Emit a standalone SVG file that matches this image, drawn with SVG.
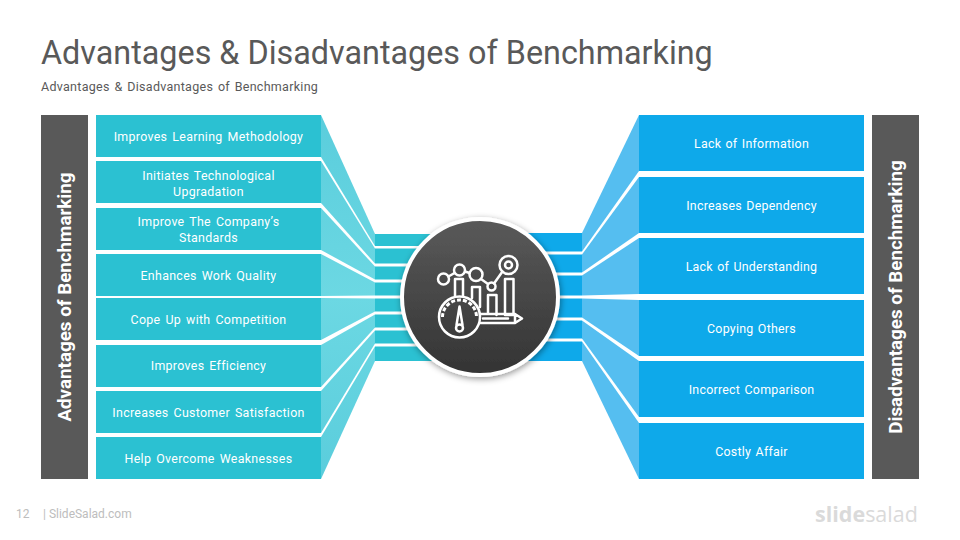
<svg xmlns="http://www.w3.org/2000/svg" width="960" height="540" viewBox="0 0 960 540">
<style>
text{font-family:Roboto,"Liberation Sans",sans-serif}
.t{font-size:12.400px;fill:#fff;text-anchor:middle;letter-spacing:.31px;word-spacing:1.600px}
.r{font-size:12.400px;fill:#fff;text-anchor:middle;letter-spacing:.26px;word-spacing:1px}
.lb{fill:#2BC1D2}.rb{fill:#0EA9EA}
.lf{fill:url(#lfg)}.rf{fill:#55BEF0}
.side{fill:#595959}
.st{font-size:18.800px;font-weight:700;fill:#fff;text-anchor:middle}
.ic{fill:none;stroke:#fff;stroke-width:2.500;stroke-linejoin:round;stroke-linecap:round}
</style>
<defs>
<linearGradient id="cg" x1="0" y1="0" x2="0" y2="1"><stop offset="0" stop-color="#5A5A5A"/><stop offset="1" stop-color="#333"/></linearGradient>
<linearGradient id="lfg" gradientUnits="userSpaceOnUse" x1="0" y1="115" x2="0" y2="479"><stop offset="0" stop-color="#5ACDDC"/><stop offset=".5" stop-color="#6CD8E3"/><stop offset="1" stop-color="#5ACDDC"/></linearGradient>
<filter id="sh" x="-20%" y="-20%" width="140%" height="140%"><feDropShadow dx="1" dy="2" stdDeviation="3" flood-color="#000" flood-opacity=".4"/></filter>
</defs>
<rect width="960" height="540" fill="#fff"/>
<text x="41" y="64" font-size="32.350" fill="#595959">Advantages &amp; Disadvantages of Benchmarking</text>
<text x="41" y="91" font-size="12.500" fill="#595959" letter-spacing=".28" word-spacing="1.400">Advantages &amp; Disadvantages of Benchmarking</text>

<g id="connectors">
<polygon class="lf" points="321,115 375,234 375,246 321,157"/>
<polygon class="lf" points="321,161 375,248.500 375,263.500 321,203"/>
<polygon class="lf" points="321,208 375,266.500 375,279.500 321,250"/>
<polygon class="lf" points="321,254 375,282.500 375,295.500 321,296"/>
<polygon class="lf" points="321,298 375,298.500 375,311.500 321,340"/>
<polygon class="lf" points="321,345 375,314.500 375,327.500 321,387"/>
<polygon class="lf" points="321,391 375,330.500 375,343.500 321,433"/>
<polygon class="lf" points="321,437 375,346.500 375,361 321,479"/>
<rect class="lb" x="375" y="234" width="60" height="12"/>
<rect class="lb" x="375" y="248.500" width="60" height="15"/>
<rect class="lb" x="375" y="266.500" width="60" height="13"/>
<rect class="lb" x="375" y="282.500" width="60" height="13"/>
<rect class="lb" x="375" y="298.500" width="60" height="13"/>
<rect class="lb" x="375" y="314.500" width="60" height="13"/>
<rect class="lb" x="375" y="330.500" width="60" height="13"/>
<rect class="lb" x="375" y="346.500" width="60" height="14.500"/>
<polygon class="rf" points="639,115 582,233 582,251.500 639,171"/>
<polygon class="rf" points="639,177 582,254.500 582,272.500 639,233"/>
<polygon class="rf" points="639,238 582,275.500 582,295.500 639,294"/>
<polygon class="rf" points="639,300 582,298.500 582,317.500 639,356"/>
<polygon class="rf" points="639,361 582,320.500 582,338.500 639,417"/>
<polygon class="rf" points="639,423 582,341.500 582,361 639,479"/>
<rect class="rb" x="525" y="233" width="57" height="18.500"/>
<rect class="rb" x="525" y="254.500" width="57" height="18"/>
<rect class="rb" x="525" y="275.500" width="57" height="20"/>
<rect class="rb" x="525" y="298.500" width="57" height="19"/>
<rect class="rb" x="525" y="320.500" width="57" height="18"/>
<rect class="rb" x="525" y="341.500" width="57" height="19.500"/>
</g>

<g id="adv-panel"><rect class="side" x="41" y="115" width="47" height="364"/><text class="st" transform="translate(71,297) rotate(-90)">Advantages of Benchmarking</text></g>
<g id="adv-1"><rect class="lb" x="96" y="115" width="225" height="42"/><text class="t" x="208.500" y="141">Improves Learning Methodology</text></g>
<g id="adv-2"><rect class="lb" x="96" y="161" width="225" height="42"/><text class="t" x="208.500" y="180">Initiates Technological</text><text class="t" x="208.500" y="196">Upgradation</text></g>
<g id="adv-3"><rect class="lb" x="96" y="208" width="225" height="42"/><text class="t" x="208.500" y="226">Improve The Company’s</text><text class="t" x="208.500" y="242">Standards</text></g>
<g id="adv-4"><rect class="lb" x="96" y="254" width="225" height="42"/><text class="t" x="208.500" y="280">Enhances Work Quality</text></g>
<g id="adv-5"><rect class="lb" x="96" y="298" width="225" height="42"/><text class="t" x="208.500" y="324">Cope Up with Competition</text></g>
<g id="adv-6"><rect class="lb" x="96" y="345" width="225" height="42"/><text class="t" x="208.500" y="370">Improves Efficiency</text></g>
<g id="adv-7"><rect class="lb" x="96" y="391" width="225" height="42"/><text class="t" x="208.500" y="417">Increases Customer Satisfaction</text></g>
<g id="adv-8"><rect class="lb" x="96" y="437" width="225" height="42"/><text class="t" x="208.500" y="463">Help Overcome Weaknesses</text></g>

<g id="dis-1"><rect class="rb" x="639" y="115" width="225" height="56"/><text class="r" x="751.500" y="148">Lack of Information</text></g>
<g id="dis-2"><rect class="rb" x="639" y="177" width="225" height="56"/><text class="r" x="751.500" y="210">Increases Dependency</text></g>
<g id="dis-3"><rect class="rb" x="639" y="238" width="225" height="56"/><text class="r" x="751.500" y="271">Lack of Understanding</text></g>
<g id="dis-4"><rect class="rb" x="639" y="300" width="225" height="56"/><text class="r" x="751.500" y="333">Copying Others</text></g>
<g id="dis-5"><rect class="rb" x="639" y="361" width="225" height="56"/><text class="r" x="751.500" y="394">Incorrect Comparison</text></g>
<g id="dis-6"><rect class="rb" x="639" y="423" width="225" height="56"/><text class="r" x="751.500" y="456">Costly Affair</text></g>
<g id="dis-panel"><rect class="side" x="872" y="115" width="47" height="364"/><text class="st" transform="translate(902,297) rotate(-90)">Disadvantages of Benchmarking</text></g>

<g id="hub">
<circle cx="480" cy="297" r="78" fill="url(#cg)" stroke="#fff" stroke-width="4" filter="url(#sh)"/>
<g class="ic">
<circle cx="443.500" cy="279" r="5.500"/><circle cx="459.500" cy="270" r="5.500"/><circle cx="476" cy="274.500" r="6.500"/><circle cx="491.500" cy="286.500" r="4"/><circle cx="508.500" cy="265" r="9"/><circle cx="508.500" cy="265" r="3.500"/>
<path d="M448.500 276.500L454.500 273M465 271.500L469.500 273M481 279L488 284M494 283.500L502.500 271.500"/>
<path d="M455 296V279H463V296M472 298V287H480V307M488 313V295H496.500V315M505 315V279H513.500V315H505"/>
<circle cx="459.500" cy="317" r="20.500"/>
<path d="M442.500 317A17 17 0 0 1 476.500 317" stroke-width="3" stroke-dasharray="4 2" stroke-linecap="butt"/>
<path d="M456.500 325L459.500 306.500L462.500 325"/><circle cx="459.500" cy="328" r="3.500"/>
<path d="M480 314H515L522 318.500L515 323H480M483 318.500H508M515 314V323"/>
</g>
</g>

<text x="16" y="518" font-size="12" fill="#BDBDBD">12</text>
<text x="43" y="518" font-size="12" fill="#BDBDBD">| SlideSalad.com</text>
<text x="815" y="522" font-size="21.500" fill="#DADADA" style="font-family:'Open Sans',sans-serif"><tspan font-weight="700">slide</tspan><tspan font-weight="400">salad</tspan></text>
</svg>
